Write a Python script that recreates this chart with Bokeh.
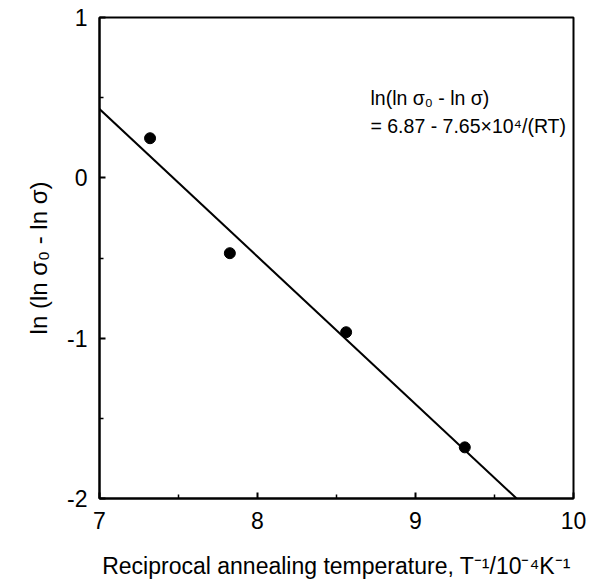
from bokeh.plotting import figure
from bokeh.models import Range1d, FixedTicker, Label
from bokeh.embed import file_html
from bokeh.resources import INLINE

# data
inv_T = [7.32, 7.825, 8.561, 9.312]          # T^-1 / 10^-4 K^-1
ln_ln = [0.247, -0.470, -0.963, -1.681]       # ln(ln s0 - ln s)
fit_intercept = 6.87
fit_coeff = 7.65e4 / 8.314 / 1e4              # 7.65x10^4/(R T) per 10^-4 K^-1
fit_x = [7.0, 9.64]
fit_y = [fit_intercept - fit_coeff * v for v in fit_x]
x_ticks = [7, 8, 9, 10]
x_minor = [7.5, 8.5, 9.5]
y_ticks = [-2, -1, 0, 1]
y_tick_labels = ["-2", "-1", "0", "1"]
y_minor = [-1.5, -0.5, 0.5]

FONT = "Liberation Sans"

p = figure(width=595, height=588, output_backend="svg", toolbar_location=None,
           x_range=Range1d(7, 10), y_range=Range1d(-2, 1),
           min_border_left=99, min_border_top=17, min_border_right=22,
           min_border_bottom=90)
p.background_fill_color = "white"
p.border_fill_color = "white"
p.grid.visible = False
p.outline_line_color = "black"
p.outline_line_width = 2

p.line(fit_x, fit_y, line_color="black", line_width=2)
p.scatter(inv_T, ln_ln, size=11, marker="circle", fill_color="black", line_color="black")

for ax in (p.xaxis[0], p.yaxis[0]):
    ax.axis_line_width = 2
    ax.axis_line_color = "black"
    ax.major_tick_in = 6
    ax.major_tick_out = 0
    ax.minor_tick_in = 4
    ax.minor_tick_out = 0
    ax.major_tick_line_width = 2
    ax.minor_tick_line_width = 1.5
    ax.major_label_text_font = FONT
    ax.major_label_text_font_size = "23px"
    ax.major_label_text_color = "black"
    ax.axis_label_text_font = FONT
    ax.axis_label_text_font_style = "normal"
    ax.axis_label_text_color = "black"

p.xaxis.ticker = FixedTicker(ticks=x_ticks, minor_ticks=x_minor)
p.yaxis.ticker = FixedTicker(ticks=y_ticks, minor_ticks=y_minor)
p.yaxis.major_label_overrides = {t: s for t, s in zip(y_ticks, y_tick_labels)}
p.xaxis.major_label_standoff = 13
p.yaxis.major_label_standoff = 12
p.xaxis.axis_label = "Reciprocal annealing temperature, T\u207b\u00b9/10\u207b\u2074K\u207b\u00b9"
p.yaxis.axis_label = "ln (ln \u03c3\u2080 - ln \u03c3)"
p.xaxis.axis_label_text_font_size = "23px"
p.yaxis.axis_label_text_font_size = "24px"
p.xaxis.axis_label_standoff = 21
p.yaxis.axis_label_standoff = 12

p.add_layout(Label(x=8.715, y=0.50, text="ln(ln \u03c3\u2080 - ln \u03c3)",
                   text_font=FONT, text_font_size="19.5px", text_baseline="middle",
                   text_color="black"))
p.add_layout(Label(x=8.715, y=0.326, text="= 6.87 - 7.65\u00d710\u2074/(RT)",
                   text_font=FONT, text_font_size="19.5px", text_baseline="middle",
                   text_color="black"))

open("out.html", "w").write(file_html(p, INLINE))
